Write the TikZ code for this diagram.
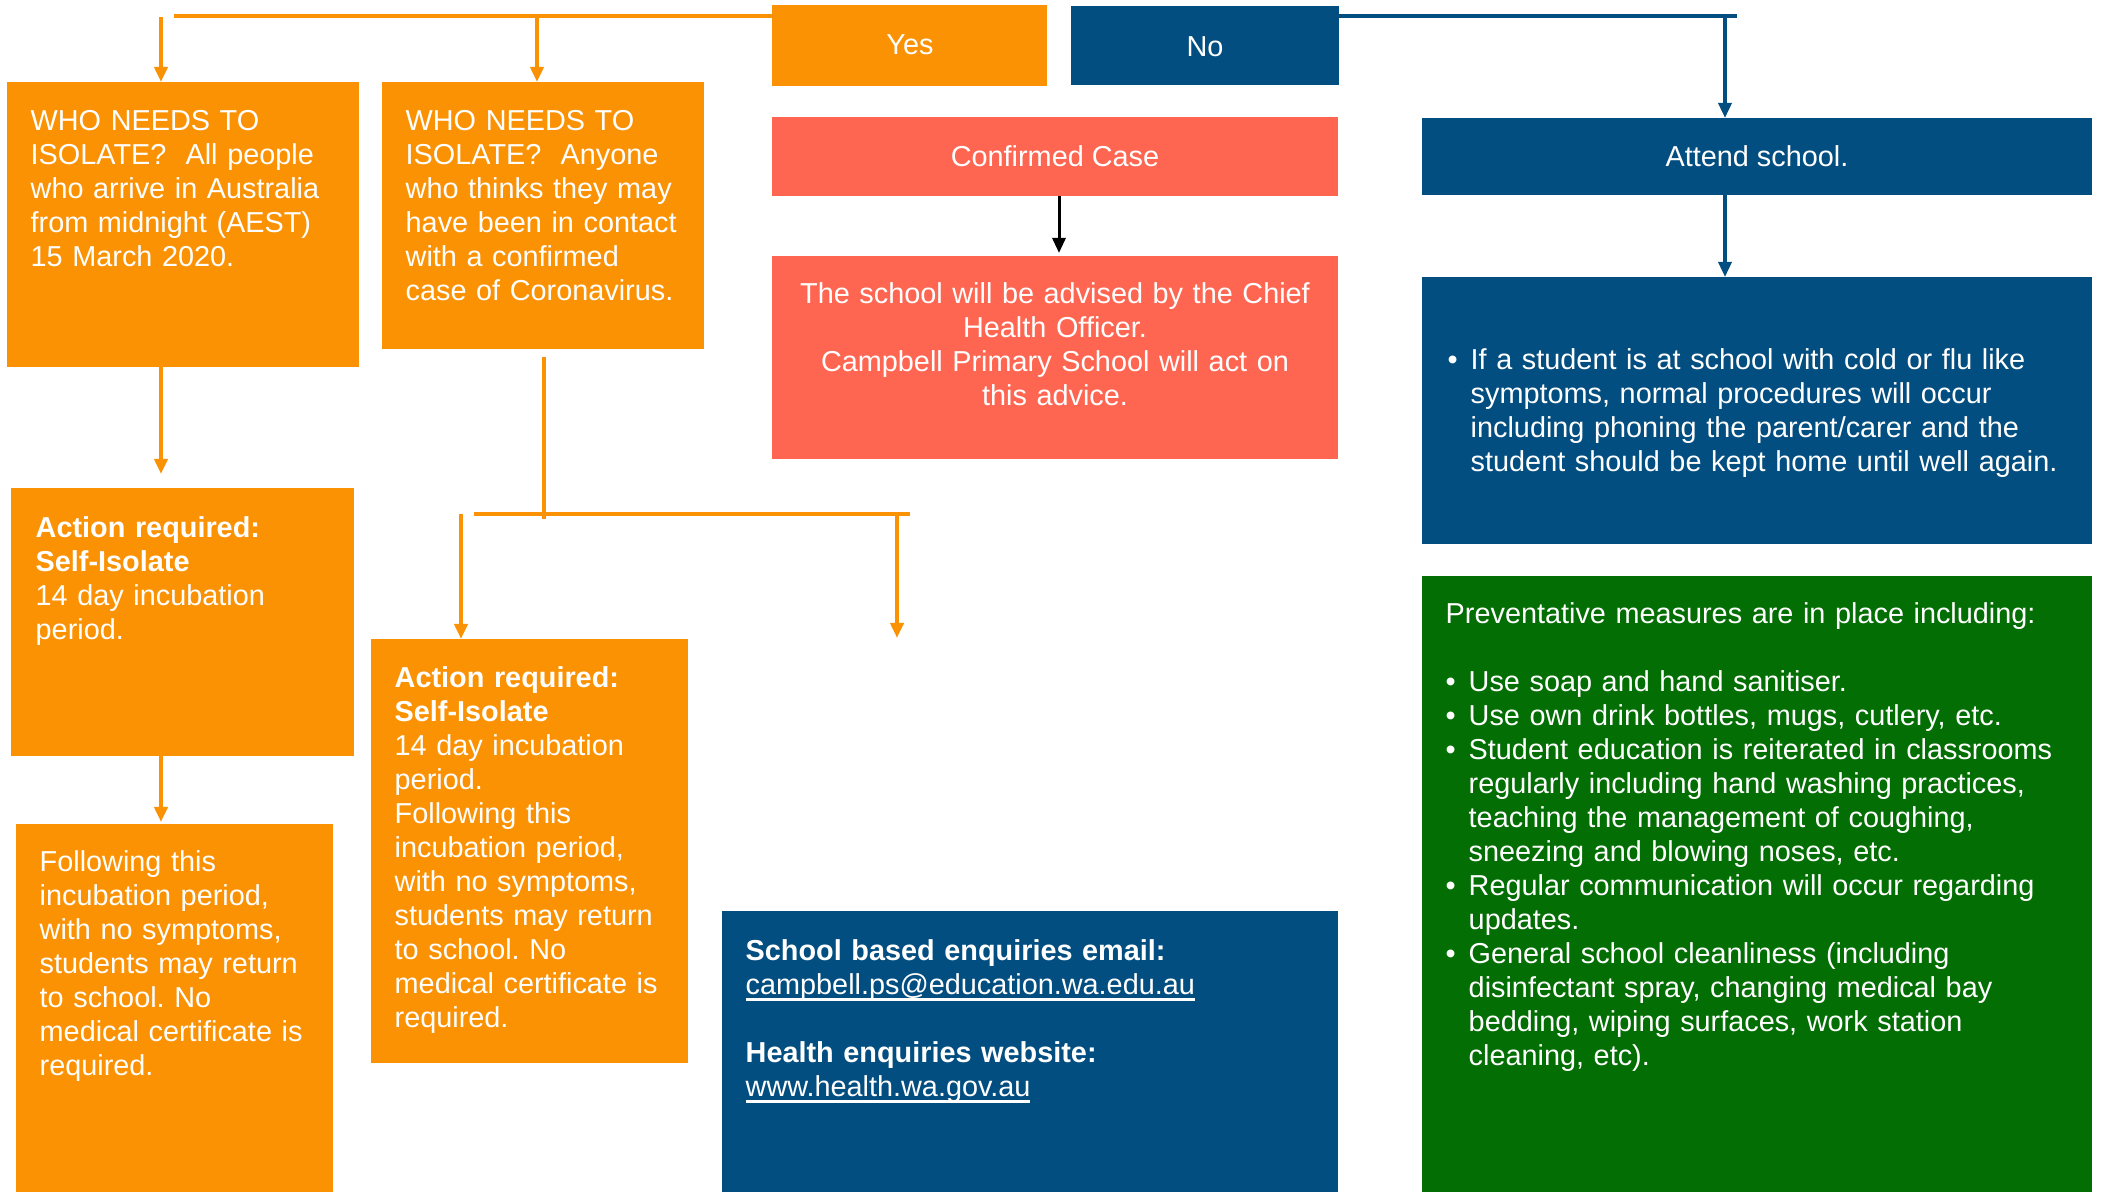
\documentclass[tikz,border=0pt]{standalone}
\usepackage{fontspec}
\setmainfont{Liberation Sans}
\definecolor{cporange}{RGB}{251,146,3}
\definecolor{cpred}{RGB}{255,102,82}
\definecolor{cpblue}{RGB}{3,78,128}
\definecolor{cpgreen}{RGB}{3,110,3}
\usetikzlibrary{arrows.meta,positioning,fit,calc}
\frenchspacing
\newlength\lnkwd
\newcommand\lnk[1]{\leavevmode\settowidth\lnkwd{#1}\rlap{#1}\rule[-1.7pt]{\lnkwd}{0.7pt}}
\newcommand\bul{\makebox[2.3mm][l]{\textbullet}}
\newcommand\ind{\makebox[2.3mm][l]{}}

\begin{document}
\begin{tikzpicture}[x=0.01cm, y=-0.01cm,
  panel/.style={fill=#1, inner sep=0pt, outer sep=0pt},
  txt/.style={text=white, font=\fontsize{8.2}{9.65}\selectfont, inner sep=0pt, anchor=base west, align=left, text width=#1},
  ctxt/.style={text=white, font=\fontsize{8.2}{9.65}\selectfont, inner sep=0pt, anchor=base},
  oline/.style={draw=cporange, line width=0.4mm},
  oarr/.style={oline, -{Triangle[length=1.5mm,width=1.3mm]}},
  bline/.style={draw=cpblue, line width=0.35mm},
  barr/.style={bline, -{Triangle[length=1.5mm,width=1.3mm]}},
  karr/.style={draw=black, line width=0.3mm, -{Triangle[length=1.5mm,width=1.3mm]}}
]
  \useasboundingbox (0,0) rectangle (2105,1192);
  %% Top row
  \node[panel=cporange, fit={(772,5) (1047,86)}] (yes) {};
  \node[ctxt] at (910,55) {Yes};
  \node[panel=cpblue, fit={(1071,6) (1339,85)}] (no) {};
  \node[ctxt] at (1205,57) {No};
  %% Yes branch
  \node[panel=cporange, fit={(7,82) (359,367)}] (whoA) {};
  \node[txt=3.3cm] at (30,131) {WHO NEEDS TO\\ISOLATE?\ \ All people\\who arrive in Australia\\from midnight (AEST)\\15 March 2020.};
  \node[panel=cporange, fit={(382,82) (704,349)}] (whoB) {};
  \node[txt=3.0cm] at (405,131) {WHO NEEDS TO\\ISOLATE?\ \ Anyone\\who thinks they may\\have been in contact\\with a confirmed\\case of Coronavirus.};
  \node[panel=cpred, fit={(772,117) (1338,196)}] (conf) {};
  \node[ctxt] at (1055,167) {Confirmed Case};
  \node[panel=cpred, fit={(772,256) (1338,459)}] (advice) {};
  \node[txt=5.4cm, align=center, anchor=base] at (1055,304) {The school will be advised by the Chief\\Health Officer.\\Campbell Primary School will act on\\this advice.};
  \node[panel=cporange, fit={(11,488) (354,756)}] (actA) {};
  \node[txt=3.1cm] at (35,538) {\textbf{Action required:}\\\textbf{Self-Isolate}\\14 day incubation\\period.};
  \node[panel=cporange, fit={(16,824) (333,1192)}] (followA) {};
  \node[txt=2.9cm] at (39,872) {Following this\\incubation period,\\with no symptoms,\\students may return\\to school. No\\medical certificate is\\required.};
  \node[panel=cporange, fit={(371,639) (688,1063)}] (actB) {};
  \node[txt=2.9cm] at (394,688) {\textbf{Action required:}\\\textbf{Self-Isolate}\\14 day incubation\\period.\\Following this\\incubation period,\\with no symptoms,\\students may return\\to school. No\\medical certificate is\\required.};
  \node[panel=cpblue, fit={(722,911) (1338,1192)}] (contact) {};
  \node[txt=5.6cm] at (745,961) {\textbf{School based enquiries email:}\\\lnk{campbell.ps@education.wa.edu.au}\\[9.65pt]\textbf{Health enquiries website:}\\\lnk{www.health.wa.gov.au}};
  %% No branch
  \node[panel=cpblue, fit={(1422,118) (2092,195)}] (attend) {};
  \node[ctxt] at (1757,167) {Attend school.};
  \node[panel=cpblue, fit={(1422,277) (2092,544)}] (sympt) {};
  \node[txt=6.3cm] at (1447,370) {\bul If a student is at school with cold or flu like\\\ind symptoms, normal procedures will occur\\\ind including phoning the parent/carer and the\\\ind student should be kept home until well again.};
  \node[panel=cpgreen, fit={(1422,576) (2092,1192)}] (prevent) {};
  \node[txt=6.3cm] at (1445,624) {Preventative measures are in place including:\\[9.65pt]\bul Use soap and hand sanitiser.\\\bul Use own drink bottles, mugs, cutlery, etc.\\\bul Student education is reiterated in classrooms\\\ind regularly including hand washing practices,\\\ind teaching the management of coughing,\\\ind sneezing and blowing noses, etc.\\\bul Regular communication will occur regarding\\\ind updates.\\\bul General school cleanliness (including\\\ind disinfectant spray, changing medical bay\\\ind bedding, wiping surfaces, work station\\\ind cleaning, etc).};
  %% Connectors, yes side
  \coordinate (ybar) at (174,16);
  \coordinate (ya) at (161,17);
  \coordinate (yb) at (537,16);
  \draw[oline] (ybar) -- (ybar -| yes.west);
  \draw[oarr] (ya) -- (ya |- whoA.north);
  \draw[oarr] (yb) -- (yb |- whoB.north);
  \draw[oarr, shorten >=1.4mm] (whoA.south -| ya) -- (actA.north -| ya);
  \draw[oarr, shorten >=0.2mm] (actA.south -| ya) -- (followA.north -| ya);
  \coordinate (bsplit) at (544,519);
  \coordinate (bl) at (474,514);
  \coordinate (br) at (910,514);
  \coordinate (bla) at (461,514);
  \coordinate (bra) at (897,514);
  \coordinate (braend) at (897,638);
  \draw[oline, shorten <=0.8mm] (whoB.south -| bsplit) -- (bsplit);
  \draw[oline] (bl) -- (br);
  \draw[oarr] (bla) -- (bla |- actB.north);
  \draw[oarr] (bra) -- (braend);
  \draw[karr, shorten >=0.3mm] ([xshift=0.4mm]conf.south) -- ([xshift=0.4mm]advice.north);
  %% Connectors, no side
  \coordinate (nbar) at (1737,16);
  \coordinate (na) at (1725,16);
  \draw[bline] (no.east |- nbar) -- (nbar);
  \draw[barr] (na) -- (na |- attend.north);
  \draw[barr] (attend.south -| na) -- (sympt.north -| na);
\end{tikzpicture}
\end{document}
